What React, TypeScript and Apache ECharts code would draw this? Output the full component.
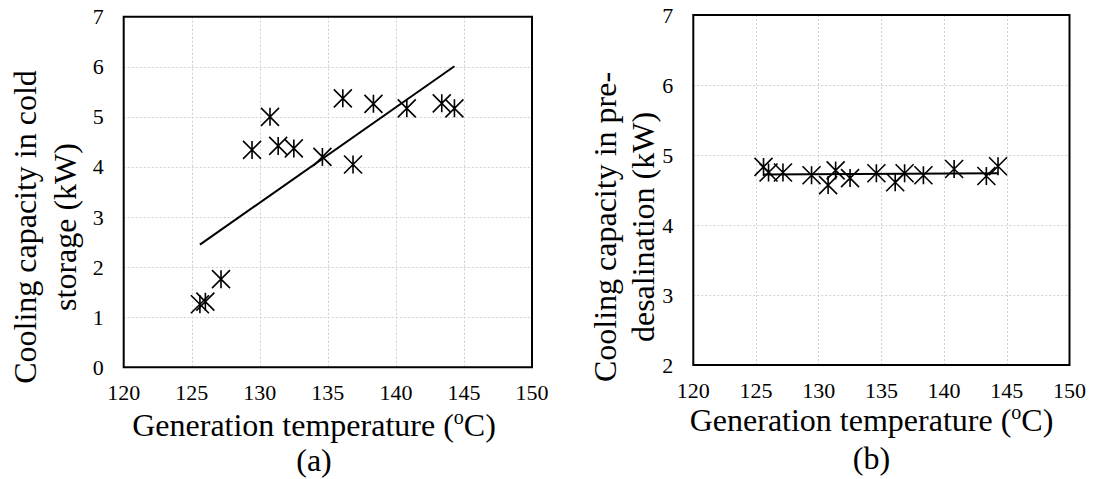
import React, { useEffect, useRef } from 'react';
import * as echarts from 'echarts';

// Generation temperature (°C), shared by both panels
const temperatures = [125.6, 126.0, 127.15, 129.43, 130.75, 131.35, 132.5, 134.6, 136.1, 136.85, 138.35, 140.8, 143.37, 144.3];
// (a) Cooling capacity in cold storage (kW)
const coldStorage = [1.26, 1.31, 1.76, 4.34, 5.0, 4.42, 4.37, 4.2, 5.37, 4.05, 5.26, 5.17, 5.27, 5.17];
// (b) Cooling capacity in pre-desalination (kW)
const preDesalination = [4.83, 4.75, 4.75, 4.71, 4.57, 4.78, 4.67, 4.74, 4.61, 4.74, 4.71, 4.8, 4.7, 4.84];
// Linear trend lines (end points)
const trendX = [125.6, 144.3];
const trendCold = [2.45, 6.01];
const trendPre = [4.72, 4.74];

const xRange = { min: 120, max: 150, interval: 5 };
const yRangeA = { min: 0, max: 7, interval: 1 };
const yRangeB = { min: 2, max: 7, interval: 1 };

const FONT = 'Liberation Serif';
const STAR = 'path://M0,0L18,18M18,0L0,18M9,0L9,18';

export default function App() {
  const ref = useRef<HTMLDivElement>(null);
  useEffect(() => {
    if (!ref.current) return;
    const chart = echarts.init(ref.current, undefined, { renderer: 'svg' });
    const pairs = (xs: number[], ys: number[]) => xs.map((x, i) => [x, ys[i]]);
    const split = { show: true, showMinLine: false, showMaxLine: false, lineStyle: { color: '#d0d0d0', type: [2, 2], width: 1 } };
    const label = (margin: number) => ({ show: true, fontFamily: FONT, fontSize: 22, color: '#000', margin });
    const xAxisBase = (gridIndex: number) => ({
      type: 'value',
      gridIndex,
      ...xRange,
      axisLine: { show: false },
      axisTick: { show: false },
      axisLabel: label(14),
      splitLine: split,
    });
    const yAxisBase = (gridIndex: number, r: any) => ({
      type: 'value',
      gridIndex,
      ...r,
      axisLine: { show: false },
      axisTick: { show: false },
      axisLabel: label(20),
      splitLine: split,
    });
    const scatterStyle = {
      symbol: STAR,
      symbolSize: 18,
      itemStyle: { color: 'none', borderColor: '#000', borderWidth: 1.6, opacity: 1 },
    };
    const titleText = (x: number, y: number, text: string, rot = 0) => ({
      type: 'text',
      x,
      y,
      rotation: rot,
      style: {
        text,
        font: `32px "${FONT}"`,
        fill: '#000',
        align: 'center',
        verticalAlign: 'middle',
      },
    });
    const xTitle = (x: number, y: number) => ({
      type: 'text',
      x,
      y,
      style: {
        text: '{a|Generation temperature (}{s|o}{a|C)}',
        fill: '#000',
        align: 'center',
        verticalAlign: 'middle',
        rich: {
          a: { fontFamily: FONT, fontSize: 32, lineHeight: 36, fill: '#000' },
          s: { fontFamily: FONT, fontSize: 20, lineHeight: 36, fill: '#000', verticalAlign: 'top' },
        },
      },
    });
    chart.setOption({
      animation: false,
      backgroundColor: '#fff',
      textStyle: { fontFamily: FONT, fontSize: 22, color: '#000' },
      grid: [
        { left: 123.7, top: 16.7, width: 408.3, height: 350.6, show: true, borderColor: '#000', borderWidth: 2, backgroundColor: 'transparent', z: 3 },
        { left: 693.3, top: 15, width: 376.2, height: 350, show: true, borderColor: '#000', borderWidth: 2, backgroundColor: 'transparent', z: 3 },
      ],
      xAxis: [xAxisBase(0), xAxisBase(1)],
      yAxis: [yAxisBase(0, yRangeA), yAxisBase(1, yRangeB)],
      series: [
        { type: 'scatter', xAxisIndex: 0, yAxisIndex: 0, data: pairs(temperatures, coldStorage), ...scatterStyle },
        { type: 'line', xAxisIndex: 0, yAxisIndex: 0, data: pairs(trendX, trendCold), showSymbol: false, lineStyle: { color: '#000', width: 2 } },
        { type: 'scatter', xAxisIndex: 1, yAxisIndex: 1, data: pairs(temperatures, preDesalination), ...scatterStyle },
        { type: 'line', xAxisIndex: 1, yAxisIndex: 1, data: pairs(trendX, trendPre), showSymbol: false, lineStyle: { color: '#000', width: 2 } },
      ],
      graphic: [
        titleText(25, 227, 'Cooling capacity in cold', Math.PI / 2),
        titleText(64.5, 227, 'storage (kW)', Math.PI / 2),
        titleText(604.6, 227, 'Cooling capacity in pre-', Math.PI / 2),
        titleText(643, 227, 'desalination (kW)', Math.PI / 2),
        xTitle(314, 425),
        xTitle(871.5, 420),
        titleText(314, 460, '(a)'),
        titleText(871.5, 458, '(b)'),
      ],
    });
    return () => chart.dispose();
  }, []);
  return <div ref={ref} style={{ position: 'fixed', left: 0, top: 0, width: 1094, height: 479, background: '#fff' }} />;
}
